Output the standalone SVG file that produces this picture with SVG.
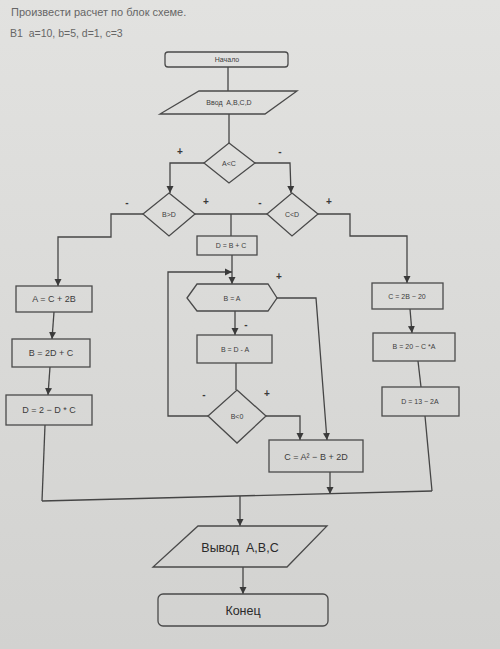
<svg xmlns="http://www.w3.org/2000/svg" width="500" height="649" viewBox="0 0 500 649">
<defs>
<linearGradient id="bg" x1="0" y1="0" x2="0" y2="1">
<stop offset="0" stop-color="#e2e2e0"/>
<stop offset="1" stop-color="#d2d2d0"/>
</linearGradient>
<marker id="arr" markerWidth="8" markerHeight="8" refX="7" refY="4" orient="auto" markerUnits="userSpaceOnUse">
<path d="M0,0.5 L7,4 L0,7.5 Z" fill="#3a3a3a"/>
</marker>
</defs>
<style>
.shape{fill:none;stroke:#4a4a4a;stroke-width:1.3}
.conn{fill:none;stroke:#454545;stroke-width:1.3}
.ar{marker-end:url(#arr)}
text{font-family:"Liberation Sans",Arial,sans-serif;fill:#3c3c3c;text-anchor:middle}
.small{font-size:7px}
.mid{font-size:9px}
.big{font-size:12.5px;fill:#2a2a2a}
.sign{font-size:10px;font-weight:bold;fill:#3a3a3a}
.title{text-anchor:start;font-size:11px;fill:#666}
</style>
<rect width="500" height="649" fill="url(#bg)"/>
<text class="title" x="11" y="16">Произвести расчет по блок схеме.</text>
<text class="title" x="10" y="37" style="font-size:10.5px">B1&#160; a=10, b=5, d=1, c=3</text>

<g id="connectors">
<polyline class="conn" points="228,67 228,91"/>
<polyline class="conn" points="229,114 229,143"/>
<polyline class="conn ar" points="204,163 170,163 170,193"/>
<polyline class="conn ar" points="255,163 290,163 291,193"/>
<polyline class="conn" points="195,214 267,214"/>
<polyline class="conn" points="231,214 231,236"/>
<polyline class="conn ar" points="143,214 111,214 111,237 58,237 58,286"/>
<polyline class="conn ar" points="318,214 350,214 350,236 407,236 407,283"/>
<polyline class="conn ar" points="232,255 232,284"/>
<polyline class="conn ar" points="235,311 235,335"/>
<polyline class="conn ar" points="277,298 316,298 327,440"/>
<polyline class="conn" points="236,363 236,390"/>
<polyline class="conn ar" points="266,416 300,416 300,440"/>
<polyline class="conn ar" points="208,416 168,416 168,272 232,272"/>
<polyline class="conn ar" points="54,312 52,339"/>
<polyline class="conn ar" points="50,367 48,395"/>
<polyline class="conn" points="45,425 42,501"/>
<polyline class="conn ar" points="330,472 330,494"/>
<polyline class="conn ar" points="410,309 412,333"/>
<polyline class="conn" points="418,361 421,387"/>
<polyline class="conn" points="425,416 432,491"/>
<polyline class="conn" points="42,501 432,491"/>
<polyline class="conn ar" points="240,496 240,526"/>
<polyline class="conn ar" points="243,567 243,594"/>
</g>

<g id="start">
<rect class="shape" x="165" y="52" width="123" height="15" rx="3"/>
<text class="small" x="227" y="62">Начало</text>
</g>
<g id="input">
<polygon class="shape" points="199,91 297,91 265,114 160,114"/>
<text class="small" x="229" y="105">Ввод&#160; A,B,C,D</text>
</g>
<g id="cond-AC">
<polygon class="shape" points="229,143 255,163 229,183 204,163"/>
<text class="small" x="229" y="166">A&lt;C</text>
<text class="sign" x="180" y="155">+</text>
<text class="sign" x="280" y="155">-</text>
</g>
<g id="cond-BD">
<polygon class="shape" points="169,193 195,214 169,236 143,214"/>
<text class="small" x="169" y="217">B&gt;D</text>
<text class="sign" x="127" y="206">-</text>
<text class="sign" x="206" y="205">+</text>
</g>
<g id="cond-CD">
<polygon class="shape" points="292,193 318,214 292,236 267,214"/>
<text class="small" x="292" y="217">C&lt;D</text>
<text class="sign" x="260" y="206">-</text>
<text class="sign" x="329" y="205">+</text>
</g>
<g id="d-bc">
<rect class="shape" x="197" y="236" width="60" height="19"/>
<text class="small" x="231" y="248">D = B + C</text>
</g>
<g id="a-c2b">
<rect class="shape" x="16" y="286" width="76" height="26"/>
<text class="mid" x="54" y="302">A = C + 2B</text>
</g>
<g id="b-2dc">
<rect class="shape" x="12" y="339" width="78" height="28"/>
<text class="mid" x="51" y="356">B = 2D + C</text>
</g>
<g id="d-2dc">
<rect class="shape" x="6" y="395" width="86" height="30"/>
<text class="mid" x="49" y="413">D = 2 − D * C</text>
</g>
<g id="cond-BA">
<polygon class="shape" points="187,298 197,284 268,284 277,298 268,311 197,311"/>
<text class="small" x="232" y="301">B = A</text>
<text class="sign" x="279" y="280">+</text>
<text class="sign" x="246" y="328">-</text>
</g>
<g id="b-da">
<rect class="shape" x="197" y="335" width="75" height="28"/>
<text class="small" x="235" y="352">B = D - A</text>
</g>
<g id="cond-B0">
<polygon class="shape" points="237,390 266,416 237,443 208,416"/>
<text class="small" x="237" y="419">B&lt;0</text>
<text class="sign" x="204" y="398">-</text>
<text class="sign" x="267" y="397">+</text>
</g>
<g id="c-a2">
<rect class="shape" x="269" y="440" width="94" height="32"/>
<text class="mid" x="316" y="460">C = A² − B + 2D</text>
</g>
<g id="c-2b20">
<rect class="shape" x="372" y="283" width="71" height="26"/>
<text class="small" x="407" y="299">C = 2B − 20</text>
</g>
<g id="b-20ca">
<rect class="shape" x="373" y="333" width="82" height="28"/>
<text class="small" x="414" y="349">B = 20 − C *A</text>
</g>
<g id="d-132a">
<rect class="shape" x="382" y="387" width="77" height="29"/>
<text class="small" x="420" y="404">D = 13 − 2A</text>
</g>
<g id="output">
<polygon class="shape" points="198,526 327,526 287,567 153,567"/>
<text class="big" x="240" y="552">Вывод&#160; A,B,C</text>
</g>
<g id="end">
<rect class="shape" x="158" y="594" width="170" height="32" rx="5"/>
<text class="big" x="243" y="615">Конец</text>
</g>
</svg>
